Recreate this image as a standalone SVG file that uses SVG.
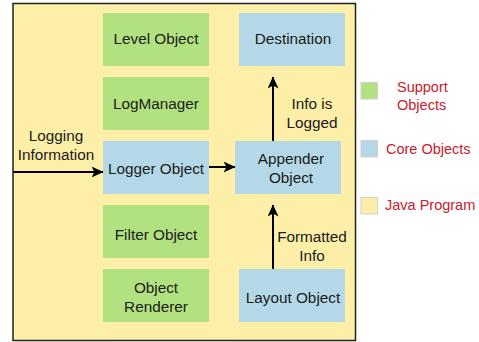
<svg xmlns="http://www.w3.org/2000/svg" width="479" height="342" viewBox="0 0 479 342">
<defs>
<style>
text{font-family:"Liberation Sans",Arial,sans-serif;font-size:15.3px;fill:#1a1a1a;text-anchor:middle}
.g{fill:#b1e27f}
.b{fill:#b4d8e7}
.lg{fill:#c8202a;text-anchor:start;font-size:14.5px}
.c{stroke:#000;stroke-width:2;fill:none}
.sw{stroke:#cfcfcf;stroke-width:1}
</style>
<marker id="ah" viewBox="0 0 12 11" refX="11.5" refY="5.5" markerWidth="12" markerHeight="11" orient="auto" markerUnits="userSpaceOnUse">
<path d="M0,0 L12,5.5 L0,11 L3,5.5 Z" fill="#000"/>
</marker>
</defs>
<rect x="13" y="3.5" width="342.5" height="337" fill="#fdefa8" stroke="#222" stroke-width="1.5"/>
<g id="level"><rect class="g" x="103" y="13" width="106" height="53"/><text x="156" y="44">Level Object</text></g>
<g id="logmanager"><rect class="g" x="103" y="77" width="106" height="53"/><text x="156" y="109">LogManager</text></g>
<g id="logger"><rect class="b" x="103" y="141" width="106" height="53"/><text x="156" y="174">Logger Object</text></g>
<g id="filter"><rect class="g" x="103" y="205" width="106" height="53"/><text x="156" y="240">Filter Object</text></g>
<g id="renderer"><rect class="g" x="103" y="269" width="106" height="53"/><text x="156" y="293">Object</text><text x="156" y="312">Renderer</text></g>
<g id="destination"><rect class="b" x="239" y="13" width="106" height="53"/><text x="293" y="44">Destination</text></g>
<g id="appender"><rect class="b" x="235" y="141" width="106" height="53"/><text x="291" y="164">Appender</text><text x="291" y="183">Object</text></g>
<g id="layout"><rect class="b" x="239" y="269" width="106" height="53"/><text x="293" y="303">Layout Object</text></g>
<g id="connectors">
<line class="c" x1="13" y1="172" x2="103" y2="172" marker-end="url(#ah)"/>
<line class="c" x1="209" y1="167" x2="235" y2="167" marker-end="url(#ah)"/>
<line class="c" x1="273" y1="141" x2="273" y2="77" marker-end="url(#ah)"/>
<line class="c" x1="273" y1="269" x2="273" y2="205" marker-end="url(#ah)"/>
<text x="56" y="141">Logging</text><text x="56" y="160">Information</text>
<text x="312" y="109">Info is</text><text x="312" y="128">Logged</text>
<text x="312" y="242">Formatted</text><text x="312" y="261">Info</text>
</g>
<g id="legend">
<rect class="g sw" x="361" y="82.5" width="16.5" height="16.5"/>
<text class="lg" x="397" y="92">Support</text><text class="lg" x="397" y="110">Objects</text>
<rect class="b sw" x="361" y="140.5" width="16.5" height="16.5"/>
<text class="lg" x="386" y="154">Core Objects</text>
<rect class="sw" fill="#fdefa8" x="361" y="197.5" width="16.5" height="16.5"/>
<text class="lg" x="385" y="210">Java Program</text>
</g>
</svg>
